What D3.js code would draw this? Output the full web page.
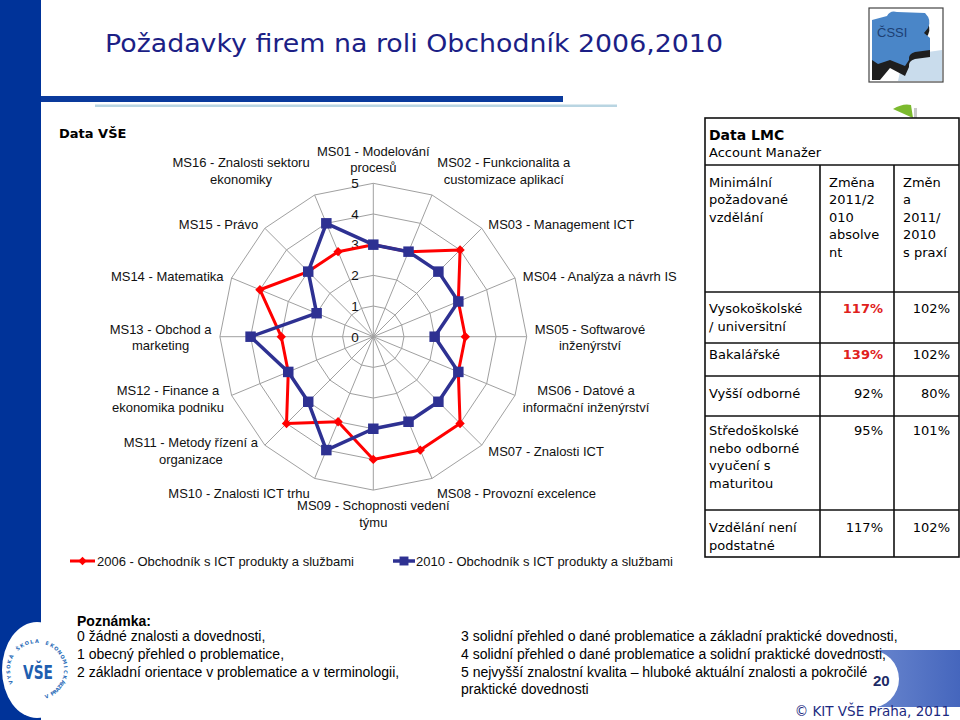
<!DOCTYPE html>
<html><head><meta charset="utf-8">
<script src="https://cdn.jsdelivr.net/npm/d3@7"></script>
<style>body{margin:0;background:#fff}svg{display:block}</style>
</head><body>
<svg id="c" width="960" height="720"></svg>
<script>
// ---------- data ----------
const axisLabels = [
  "MS01 - Modelování\nprocesů",
  "MS02 - Funkcionalita a\ncustomizace aplikací",
  "MS03 - Management ICT",
  "MS04 - Analýza a návrh IS",
  "MS05 - Softwarové\ninženýrství",
  "MS06 - Datové a\ninformační inženýrství",
  "MS07 - Znalosti ICT",
  "MS08 - Provozní excelence",
  "MS09 - Schopnosti vedení\ntýmu",
  "MS10 - Znalosti ICT trhu",
  "MS11 - Metody řízení a\norganizace",
  "MS12 - Finance a\nekonomika podniku",
  "MS13 - Obchod a\nmarketing",
  "MS14 - Matematika",
  "MS15 - Právo",
  "MS16 - Znalosti sektoru\nekonomiky"
];
const values2006 = [3,3,4,3,3,3,4,4,4,3,4,3,3,4,3,3];
const values2010 = [3,3,3,3,2,3,3,3,3,4,3,3,4,2,3,4];
const radarTicks = [0,1,2,3,4,5];
const seriesNames = ["2006 - Obchodník s ICT produkty a službami","2010 - Obchodník s ICT produkty a službami"];

const tableTitle = ["Data LMC","Account Manažer"];
const headCol1 = ["Minimální","požadované","vzdělání"];
const headCol2 = ["Změna","2011/2","010","absolve","nt"];
const headCol3 = ["Změn","a","2011/","2010","s praxí"];
const eduLevels = ["Vysokoškolské\n/ universitní","Bakalářské","Vyšší odborné","Středoškolské\nnebo odborné\nvyučení s\nmaturitou","Vzdělání není\npodstatné"];
const changeGraduate = ["117%","139%","92%","95%","117%"];
const graduateHighlight = [true,true,false,false,false];
const changeExperienced = ["102%","102%","80%","101%","102%"];

const noteTitle = "Poznámka:";
const noteLeft = ["0 žádné znalosti a dovednosti,","1 obecný přehled o problematice,","2 základní orientace v problematice a v terminologii,"];
const noteRight = ["3 solidní přehled o dané problematice a základní praktické dovednosti,","4 solidní přehled o dané problematice a solidní praktické dovednosti,","5 nejvyšší znalostní kvalita – hluboké aktuální znalosti a pokročilé","praktické dovednosti"];

// ---------- setup ----------
const svg = d3.select("#c");
const TAHOMA = "'Liberation Sans', Arial, sans-serif";
const VERDANA = "'DejaVu Sans', Verdana, sans-serif";
const ARIAL = "'Liberation Sans', Arial, sans-serif";

svg.append("rect").attr("x",0).attr("y",0).attr("width",41).attr("height",720).attr("fill","#003399");

// title
svg.append("text").attr("x",105).attr("y",52)
  .attr("font-family",VERDANA).attr("font-size",24).attr("fill","#1c1f86")
  .attr("textLength",618).attr("lengthAdjust","spacingAndGlyphs")
  .text("Požadavky firem na roli Obchodník 2006,2010");
svg.append("rect").attr("x",41).attr("y",96).attr("width",522).attr("height",6).attr("fill","#0a3a9c");
svg.append("rect").attr("x",95).attr("y",104.5).attr("width",522).attr("height",2.5).attr("fill","#b9d5e2");

// ČSSI logo
const lg = svg.append("g");
lg.append("rect").attr("x",869).attr("y",8).attr("width",74).attr("height",74).attr("fill","#fff").attr("stroke","#444").attr("stroke-width",1.2);
lg.append("path").attr("d","M903,58 Q914,50 928,52 L942,50 L942,81 L898,81 Z").attr("fill","#c9dcec");
lg.append("path").attr("d","M872,26 L887,22 L897,20 L925,20 Q932,27 928,35 L924,40 L930,45 L930,57 L915,59 Q908,61 909,67 L905,76 L890,68 L880,80 L872,80 Z").attr("fill","#1e1e1e");
lg.append("path").attr("d","M872,20 L887,16 Q890,10 897,12 L925,13 Q932,20 928,28 L924,33 L930,38 L930,50 L915,52 Q908,54 909,60 L905,66 L890,60 L878,64 L872,60 Z").attr("fill","#4a86c8");
lg.append("text").attr("x",877).attr("y",37).attr("font-family",ARIAL).attr("font-size",13).attr("fill","#1d3f73").text("ČSSI");
svg.append("path").attr("d","M893,109 Q903,103 911,105 L913,118 Z").attr("fill","#7cba2e");
svg.append("rect").attr("x",914).attr("y",108).attr("width",3).attr("height",10).attr("fill","#c8c8c8");

svg.append("text").attr("x",59).attr("y",138).attr("font-family",VERDANA).attr("font-weight","bold").attr("font-size",13).attr("fill","#000").text("Data VŠE");

// ---------- radar ----------
const cx = 373.3, cy = 336.7, R = 153.4;
const n = axisLabels.length;
const rScale = d3.scaleLinear().domain([0,5]).range([0,R]);
const angle = d3.scaleLinear().domain([0,n]).range([0,2*Math.PI]);
const rg = svg.append("g").attr("transform",`translate(${cx},${cy})`);

const ringLine = d3.lineRadial().angle((d,i)=>angle(i)).radius(d=>rScale(d)).curve(d3.curveLinearClosed);
radarTicks.filter(t=>t>0).forEach(t=>{
  rg.append("path").attr("d",ringLine(d3.range(n).map(()=>t))).attr("fill","none").attr("stroke","#a0a0a0").attr("stroke-width",1);
});
d3.range(n).forEach(i=>{
  const p = d3.pointRadial(angle(i), rScale(5));
  rg.append("line").attr("x1",0).attr("y1",0).attr("x2",p[0]).attr("y2",p[1]).attr("stroke","#a0a0a0").attr("stroke-width",1);
});
radarTicks.forEach(t=>{
  rg.append("text").attr("x",-14.5).attr("y",-rScale(t)+4.8).attr("text-anchor","end")
    .attr("font-family",TAHOMA).attr("font-size",13.5).attr("fill","#111").text(t);
});

const seriesLine = d3.lineRadial().angle((d,i)=>angle(i)).radius(d=>rScale(d)).curve(d3.curveLinearClosed);
rg.append("path").attr("d",seriesLine(values2006)).attr("fill","none").attr("stroke","#ff0000").attr("stroke-width",3).attr("stroke-linejoin","round");
rg.selectAll(".m06").data(values2006).enter().append("path")
  .attr("d",d3.symbol(d3.symbolSquare,44)())
  .attr("transform",(d,i)=>{const p=d3.pointRadial(angle(i),rScale(d));return `translate(${p[0]},${p[1]}) rotate(45)`;})
  .attr("fill","#ff0000");
rg.append("path").attr("d",seriesLine(values2010)).attr("fill","none").attr("stroke","#2e3192").attr("stroke-width",3.5).attr("stroke-linejoin","round");
rg.selectAll(".m10").data(values2010).enter().append("path")
  .attr("d",d3.symbol(d3.symbolSquare,110)())
  .attr("transform",(d,i)=>{const p=d3.pointRadial(angle(i),rScale(d));return `translate(${p[0]},${p[1]})`;})
  .attr("fill","#2e3192");

const LH = 16.5;
axisLabels.forEach((lab,i)=>{
  const lines = lab.split("\n");
  const a = angle(i), s = Math.sin(a), c = Math.cos(a);
  const ring = d3.pointRadial(a, rScale(5));
  const t = rg.append("text").attr("font-family",TAHOMA).attr("font-size",13).attr("fill","#111").attr("text-anchor","middle");
  lines.forEach((l,k)=>t.append("tspan").attr("x",0).attr("y",k*LH).text(l));
  const w = t.node().getBBox().width;
  let x, y0;
  const gap = 3 + 5*Math.abs(s);
  if (s > 0.1) x = ring[0] + gap + w/2;
  else if (s < -0.1) x = ring[0] - gap - w/2;
  else x = ring[0];
  if (c > 0.9) y0 = ring[1] - 11.3 - (lines.length-1)*LH;
  else if (c < -0.9) y0 = ring[1] + 20;
  else { const cyc = ring[1] + 1 - 7*c; y0 = cyc - (lines.length-1)*LH/2 + 4.5; }
  t.attr("transform",`translate(${x},${y0})`);
});

// legend
const leg = svg.append("g");
leg.append("line").attr("x1",70).attr("x2",95).attr("y1",561).attr("y2",561).attr("stroke","#ff0000").attr("stroke-width",3);
leg.append("path").attr("d",d3.symbol(d3.symbolSquare,36)()).attr("transform","translate(82.5,561) rotate(45)").attr("fill","#ff0000");
leg.append("text").attr("x",97).attr("y",566).attr("font-family",TAHOMA).attr("font-size",13).attr("fill","#111").text(seriesNames[0]);
leg.append("line").attr("x1",393).attr("x2",415).attr("y1",561).attr("y2",561).attr("stroke","#2e3192").attr("stroke-width",3.5);
leg.append("path").attr("d",d3.symbol(d3.symbolSquare,80)()).attr("transform","translate(404,561)").attr("fill","#2e3192");
leg.append("text").attr("x",416).attr("y",566).attr("font-family",TAHOMA).attr("font-size",13).attr("fill","#111").text(seriesNames[1]);

// ---------- table ----------
const tg = svg.append("g");
const colX = [705, 820, 894, 959];
const rowY = [118, 165, 292, 343, 376, 416, 510, 557];
tg.append("rect").attr("x",colX[0]).attr("y",rowY[0]).attr("width",colX[3]-colX[0]).attr("height",rowY[7]-rowY[0]).attr("fill","#fff").attr("stroke","#111").attr("stroke-width",1.6);
rowY.slice(1,7).forEach(y=>tg.append("line").attr("x1",colX[0]).attr("x2",colX[3]).attr("y1",y).attr("y2",y).attr("stroke","#111").attr("stroke-width",1.6));
[colX[1],colX[2]].forEach(x=>tg.append("line").attr("x1",x).attr("x2",x).attr("y1",rowY[1]).attr("y2",rowY[7]).attr("stroke","#111").attr("stroke-width",1.6));
tg.append("text").attr("x",709).attr("y",140).attr("font-family",VERDANA).attr("font-weight","bold").attr("font-size",14).attr("fill","#000").text(tableTitle[0]);
tg.append("text").attr("x",709).attr("y",157).attr("font-family",VERDANA).attr("font-size",13).attr("fill","#000").text(tableTitle[1]);
const TL = 17.5;
function block(x, y, arr, opts={}){
  const t = tg.append("text").attr("font-family",VERDANA).attr("font-size",13).attr("fill",opts.fill||"#000")
    .attr("text-anchor",opts.anchor||"start").attr("font-weight",opts.bold?"bold":"normal");
  arr.forEach((l,k)=>t.append("tspan").attr("x",x).attr("y",y+k*TL).text(l));
}
block(709,186.5,headCol1);
block(829,186.5,headCol2);
block(903,186.5,headCol3);
const rowBase = [313, 359, 398, 435, 532];
eduLevels.forEach((e,i)=>{
  block(709,rowBase[i],e.split("\n"));
  block(883,rowBase[i],[changeGraduate[i]],{anchor:"end",bold:graduateHighlight[i],fill:graduateHighlight[i]?"#e0201c":"#000"});
  block(950,rowBase[i],[changeExperienced[i]],{anchor:"end"});
});

// bottom-right page tab (behind notes)
const grad = svg.append("defs").append("linearGradient").attr("id","tabg").attr("x1",0).attr("x2",1).attr("y1",0).attr("y2",0);
grad.append("stop").attr("offset","0%").attr("stop-color","#6e8ad0");
grad.append("stop").attr("offset","100%").attr("stop-color","#4566bd");
svg.append("rect").attr("x",858).attr("y",650).attr("width",102).attr("height",57).attr("fill","url(#tabg)");
svg.append("circle").attr("cx",870).attr("cy",679).attr("r",29).attr("fill","#fff");
svg.append("text").attr("x",873).attr("y",686).attr("font-family",ARIAL).attr("font-weight","bold").attr("font-size",15).attr("fill","#1d2a66").text("20");

// ---------- notes ----------
svg.append("text").attr("x",77).attr("y",626).attr("font-family",ARIAL).attr("font-weight","bold").attr("font-size",14).attr("fill","#000").text(noteTitle);
const noteBase = [641, 659, 677, 694];
noteLeft.forEach((l,i)=>svg.append("text").attr("x",77).attr("y",noteBase[i]).attr("font-family",ARIAL).attr("font-size",14).attr("fill","#000").text(l));
noteRight.forEach((l,i)=>svg.append("text").attr("x",461).attr("y",noteBase[i]).attr("font-family",ARIAL).attr("font-size",14).attr("fill","#000").text(l));

svg.append("text").attr("x",950).attr("y",716).attr("text-anchor","end").attr("font-family",VERDANA).attr("font-size",13.5).attr("fill","#1c2a80").text("© KIT VŠE Praha, 2011");

// VŠE logo
const vg = svg.append("g");
vg.append("ellipse").attr("cx",37).attr("cy",670).attr("rx",35).attr("ry",48).attr("fill","#fff");
const arcTop = "VYSOKÁ ŠKOLA EKONOMICKÁ".split("");
const arcBot = "V PRAZE".split("");
const ar = 27, acx = 37, acy = 670;
arcTop.forEach((ch,k)=>{
  const a = (-115 + k*(230/(arcTop.length-1))) * Math.PI/180;
  vg.append("text").attr("font-family",VERDANA).attr("font-size",5).attr("font-weight","bold").attr("fill","#2a6cb8").attr("text-anchor","middle")
    .attr("transform",`translate(${acx+ar*Math.sin(a)},${acy-ar*Math.cos(a)}) rotate(${a*180/Math.PI})`).text(ch);
});
arcBot.forEach((ch,k)=>{
  const a = (160 - k*(40/(arcBot.length-1))) * Math.PI/180;
  vg.append("text").attr("font-family",VERDANA).attr("font-size",5).attr("font-weight","bold").attr("fill","#2a6cb8").attr("text-anchor","middle")
    .attr("transform",`translate(${acx+(ar+3)*Math.sin(a)},${acy-(ar+3)*Math.cos(a)}) rotate(${a*180/Math.PI-180})`).text(ch);
});
vg.append("text").attr("x",23).attr("y",679).attr("font-family",VERDANA).attr("font-weight","bold").attr("font-size",20)
  .attr("textLength",30).attr("lengthAdjust","spacingAndGlyphs").attr("fill","#1f5fb0").text("VŠE");
</script>
</body></html>
